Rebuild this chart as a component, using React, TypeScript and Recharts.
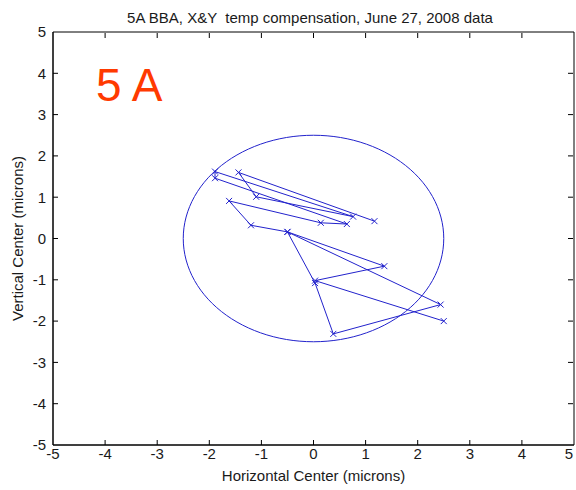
import React from 'react';
import { ScatterChart, Scatter, XAxis, YAxis, Label, ReferenceArea } from 'recharts';

// beam centre readings, in the order they were taken
const xMicrons = [1.17, -1.44, -1.1, 0.76, -1.89, -1.89, 0.64, 0.14, -1.62, -1.2, -0.5, 0.03, 0.38, 2.44, -0.5, 1.36, 0.03, 2.5];
const yMicrons = [0.42, 1.6, 1.01, 0.53, 1.62, 1.46, 0.35, 0.38, 0.91, 0.32, 0.16, -1.08, -2.31, -1.6, 0.16, -0.67, -1.02, -2.0];

// tolerance circle
const circleRadius = 2.5;
const circleAngles = Array.from({ length: 121 }, (_, i) => i * 3);

const axisTicks = [-5, -4, -3, -2, -1, 0, 1, 2, 3, 4, 5];

const title = '5A BBA, X&Y  temp compensation, June 27, 2008 data';
const xLabel = 'Horizontal Center (microns)';
const yLabel = 'Vertical Center (microns)';

const points = xMicrons.map((x, i) => ({ x, y: yMicrons[i] }));
const circle = circleAngles.map((a) => ({
  x: circleRadius * Math.cos((a * Math.PI) / 180),
  y: circleRadius * Math.sin((a * Math.PI) / 180),
}));

const BLUE = '#2222cc';
const TEXT = '#1a1a1a';
const FONT = 'Arial, "Liberation Sans", sans-serif';
const FS = 15;
const TICK_LEN = 5;

const XMark = (props: any) => {
  const { cx, cy } = props;
  if (cx == null || cy == null) return <g />;
  const s = 3;
  return (
    <path
      d={`M${cx - s},${cy - s}L${cx + s},${cy + s}M${cx - s},${cy + s}L${cx + s},${cy - s}`}
      stroke={BLUE}
      strokeWidth={1}
      fill="none"
    />
  );
};

const NoMark = () => <g />;

// matlab style ticks: short marks pointing into the box
const BottomTick = (props: any) => {
  const { x, y, payload } = props;
  const axisY = y - 3;
  const end = payload.value === 5 || payload.value === -5;
  const tx = payload.value === 5 ? Math.min(x, 569) : x;
  return (
    <g>
      {!end && <line x1={x} y1={axisY} x2={x} y2={axisY - TICK_LEN} stroke="#000" strokeWidth={1} />}
      <text x={tx} y={y} dy="0.71em" textAnchor="middle" fontSize={FS} fill={TEXT} fontFamily={FONT}>
        {payload.value}
      </text>
    </g>
  );
};

const LeftTick = (props: any) => {
  const { x, y, payload } = props;
  const axisX = x + 7;
  const end = payload.value === 5 || payload.value === -5;
  return (
    <g>
      {!end && <line x1={axisX} y1={y} x2={axisX + TICK_LEN} y2={y} stroke="#000" strokeWidth={1} />}
      <text x={x} y={y} dy="0.355em" textAnchor="end" fontSize={FS} fill={TEXT} fontFamily={FONT}>
        {payload.value}
      </text>
    </g>
  );
};

const TopTick = (props: any) => {
  const { x, y, payload } = props;
  if (payload.value === 5 || payload.value === -5) return <g />;
  return <line x1={x} y1={y + 1} x2={x} y2={y + 1 + TICK_LEN} stroke="#000" strokeWidth={1} />;
};

const RightTick = (props: any) => {
  const { x, y, payload } = props;
  if (payload.value === 5 || payload.value === -5) return <g />;
  return <line x1={x - 1} y1={y} x2={x - 1 - TICK_LEN} y2={y} stroke="#000" strokeWidth={1} />;
};

export default function App() {
  return (
    <div style={{ position: 'absolute', left: 0, top: 0, width: 576, height: 490, background: '#fff' }}>
      <ScatterChart width={576} height={490} margin={{ top: 31, right: 1, bottom: 0, left: 0 }}>
        <XAxis
          xAxisId={0}
          type="number"
          dataKey="x"
          domain={[-5, 5]}
          ticks={axisTicks}
          interval={0}
          allowDataOverflow
          height={45}
          stroke="#000"
          tickLine={false}
          tickSize={0}
          tickMargin={3}
          tick={<BottomTick />}
        >
          <Label value={xLabel} position="insideBottom" offset={9} style={{ fontSize: FS, fill: TEXT, fontFamily: FONT }} />
        </XAxis>
        <XAxis
          xAxisId="top"
          orientation="top"
          type="number"
          dataKey="x"
          domain={[-5, 5]}
          ticks={axisTicks}
          interval={0}
          allowDataOverflow
          height={1}
          axisLine={false}
          tickLine={false}
          tickSize={0}
          tickMargin={0}
          tick={<TopTick />}
        />
        <YAxis
          yAxisId={0}
          type="number"
          dataKey="y"
          domain={[-5, 5]}
          ticks={axisTicks}
          interval={0}
          allowDataOverflow
          width={53}
          stroke="#000"
          tickLine={false}
          tickSize={0}
          tickMargin={7}
          tick={<LeftTick />}
        >
          <Label
            content={(p: any) => {
              const vb = p.viewBox || {};
              const cy = vb.y + vb.height / 2;
              return (
                <text
                  x={17}
                  y={cy}
                  transform={`rotate(-90, 17, ${cy})`}
                  textAnchor="middle"
                  dominantBaseline="central"
                  fontSize={FS}
                  fill={TEXT}
                  fontFamily={FONT}
                >
                  {yLabel}
                </text>
              );
            }}
          />
        </YAxis>
        <YAxis
          yAxisId="right"
          orientation="right"
          type="number"
          dataKey="y"
          domain={[-5, 5]}
          ticks={axisTicks}
          interval={0}
          allowDataOverflow
          width={1}
          axisLine={false}
          tickLine={false}
          tickSize={0}
          tickMargin={0}
          tick={<RightTick />}
        />
        {/* box around the plot */}
        <ReferenceArea x1={-5} x2={5} y1={-5} y2={5} fill="none" stroke="#000" strokeWidth={1} ifOverflow="visible" />
        <Scatter
          data={circle}
          line={{ stroke: BLUE, strokeWidth: 1 }}
          shape={NoMark}
          fill="none"
          isAnimationActive={false}
        />
        <Scatter
          data={points}
          line={{ stroke: BLUE, strokeWidth: 1 }}
          shape={XMark}
          fill={BLUE}
          isAnimationActive={false}
        />
        {/* ties the top and right frame axes to the same data */}
        <Scatter
          data={points}
          xAxisId="top"
          yAxisId="right"
          shape={NoMark}
          fill="none"
          legendType="none"
          isAnimationActive={false}
        />
        <text x={310} y={17} textAnchor="middle" dominantBaseline="central" fontSize={FS} fill={TEXT} fontFamily={FONT} style={{ whiteSpace: 'pre' }}>
          {title}
        </text>
        <text x={96} y={101} fontSize={46} fill="#ff3a00" fontFamily={FONT}>
          5 A
        </text>
      </ScatterChart>
    </div>
  );
}
